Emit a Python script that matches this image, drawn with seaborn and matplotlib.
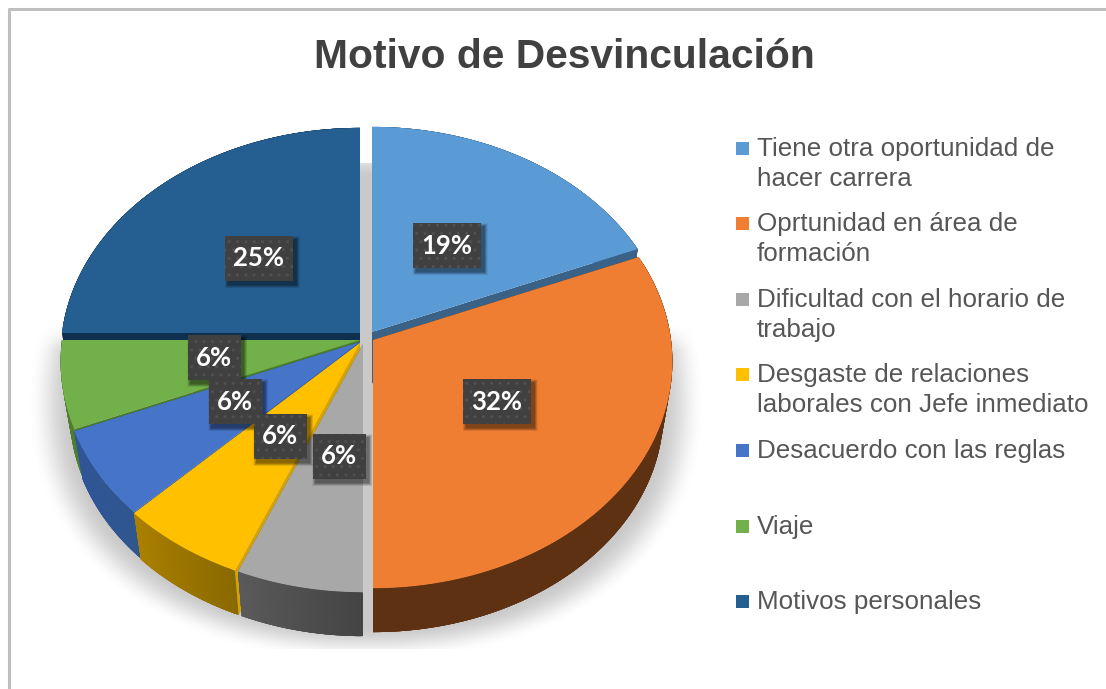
import numpy as np
import matplotlib
matplotlib.use("Agg")
import matplotlib.pyplot as plt
from matplotlib.colors import to_rgb
from matplotlib.patches import Rectangle
import seaborn as sns

# ---- data ----
title = "Motivo de Desvinculación"
categories = ["Tiene otra oportunidad de\nhacer carrera",
              "Oprtunidad en área de\nformación",
              "Dificultad con el horario de\ntrabajo",
              "Desgaste de relaciones\nlaborales con Jefe inmediato",
              "Desacuerdo con las reglas",
              "Viaje",
              "Motivos personales"]
values = [18.75, 31.25, 6.25, 6.25, 6.25, 6.25, 25]
value_labels = ["19%", "32%", "6%", "6%", "6%", "6%", "25%"]

# ---- style ----
top_colors = ["#5b9bd5", "#f07e32", "#a8a8a8", "#ffc000", "#4674c8", "#72b04a", "#255e91"]
wall_left = ["#3a6186", "#5f3113", "#5a5a5a", "#ab8000", "#2f5597", "#4f7d2f", "#0e2f4d"]
wall_right = ["#3a6186", "#5f3113", "#444444", "#8a6900", "#30568f", "#4f7d2f", "#0e2f4d"]
radial_colors = ["#3a6186", "#5f3113", "#5a5a5a", "#d6a200", "#2f5597", "#4a7a2c", "#0e2f4d"]
apex = [(372, 332), (373, 340), (363, 344), (360, 343), (360, 342), (360, 340), (360, 333)]
draw_order = [6, 0, 5, 4, 3, 1, 2]
label_centers = [(447, 245), (497, 401), (339, 456), (280, 436), (235, 401), (214, 357), (259, 258)]
label_widths = [68, 68, 53, 53, 53, 53, 68]
legend_y = [149, 224, 300, 375, 451, 527, 602]
R, RY, K = 298, 224.6, 0.095
BOTTOM_SCALE, BOTTOM_DROP = 0.97, 51.4

sns.set_theme(style="white")
plt.rcParams["font.family"] = ["Liberation Sans", "DejaVu Sans"]
palette = sns.color_palette(top_colors)

fig = plt.figure(figsize=(11.06, 6.89), dpi=100)
ax = fig.add_axes([0, 0, 1, 1])
W, H = 1106, 689


def project(theta, ap, s=1.0, drop=0.0):
    u, v = np.sin(theta), np.cos(theta)
    w = 1 + K * v
    return ap[0] + s * R * u / w, ap[1] + drop - s * RY * v / w


# soft floor shadow
yy, xx = np.mgrid[0:H, 0:W]
d = (np.abs((xx - 366) / 338) ** 2.2 + np.abs((yy - 402) / 258) ** 2.2) ** (1 / 2.2)
a = np.clip((1 - d) / 0.13, 0, 1)
a = a * a * (3 - 2 * a)
a[yy > 648] = 0
a[yy < 163] = 0
band = (xx < 358) | (xx > 374)
a = np.where(band, a * np.clip((yy - 325) / 25, 0, 1), a)
shadow = np.zeros((H, W, 4))
shadow[..., :3] = 0.79
shadow[..., 3] = a
ax.imshow(shadow, extent=(0, W, H, 0), aspect="auto", zorder=0, interpolation="bilinear")

# slices, back to front
edges = np.cumsum([0] + values) / sum(values) * 2 * np.pi
z = 1
for i in draw_order:
    t0, t1 = edges[i], edges[i + 1]
    ap = apex[i]
    th = np.linspace(t0, t1, 120)
    x, y = project(th, ap)
    xb, yb = project(th, ap, BOTTOM_SCALE, BOTTOM_DROP)
    c_end, c_start = np.array(to_rgb(wall_left[i])), np.array(to_rgb(wall_right[i]))
    # radial walls
    for tt in (t0, t1):
        ex, ey = project(tt, ap)
        bx, by = project(tt, ap, BOTTOM_SCALE, BOTTOM_DROP)
        ax.fill([ap[0], ex, bx, ap[0]], [ap[1], ey, by, ap[1] + BOTTOM_DROP],
                color=radial_colors[i], lw=0, zorder=z)
    # outer wall as overlapping strips so no seams show
    n = len(th)
    for j in range(n - 1):
        f = j / (n - 2)
        k2 = min(j + 4, n - 1)
        ax.fill(np.r_[x[j:k2 + 1], xb[j:k2 + 1][::-1]], np.r_[y[j:k2 + 1], yb[j:k2 + 1][::-1]],
                color=c_start * (1 - f) + c_end * f, lw=0, zorder=z)
    z += 1
    ax.fill(np.r_[ap[0], x], np.r_[ap[1], y], color=palette[i], lw=0, zorder=z)
    z += 1

# data labels
for (cx, cy), bw, txt in zip(label_centers, label_widths, value_labels):
    for g, al in zip(range(7, 0, -1), [0.05, 0.06, 0.07, 0.08, 0.09, 0.10, 0.12]):
        ax.add_patch(Rectangle((cx - bw / 2 + 3 - g / 2, cy - 22.5 + 4 - g / 2), bw + g, 45 + g,
                               facecolor="black", edgecolor="none", alpha=al, zorder=50))
    ax.add_patch(Rectangle((cx - bw / 2, cy - 22.5), bw, 45, facecolor="#404040",
                           edgecolor="#505050", hatch="..", lw=0, zorder=51))
    ax.text(cx, cy + 0.5, txt, color="white", fontsize=18.5, fontweight="bold",
            family=["Lato", "DejaVu Sans"], ha="center", va="center", zorder=52)

# title
ax.text(564, 57, title, fontsize=29.3, fontweight="bold", color="#404040", ha="center", va="center")

# legend
for i, (lab, ly) in enumerate(zip(categories, legend_y)):
    ax.add_patch(Rectangle((736, ly - 7), 13, 13, facecolor=palette[i], edgecolor="none"))
    for k, line in enumerate(lab.split("\n")):
        ax.text(757, ly + 30.3 * k, line, fontsize=18.7, color="#565656", ha="left", va="center")

# chart frame
ax.plot([8.5, 8.5, W], [H, 9, 9], color="#bfbfbf", lw=2.2, zorder=60)

ax.set_xlim(0, W)
ax.set_ylim(H, 0)
ax.axis("off")
fig.savefig("out.png", dpi=100, facecolor="white")
